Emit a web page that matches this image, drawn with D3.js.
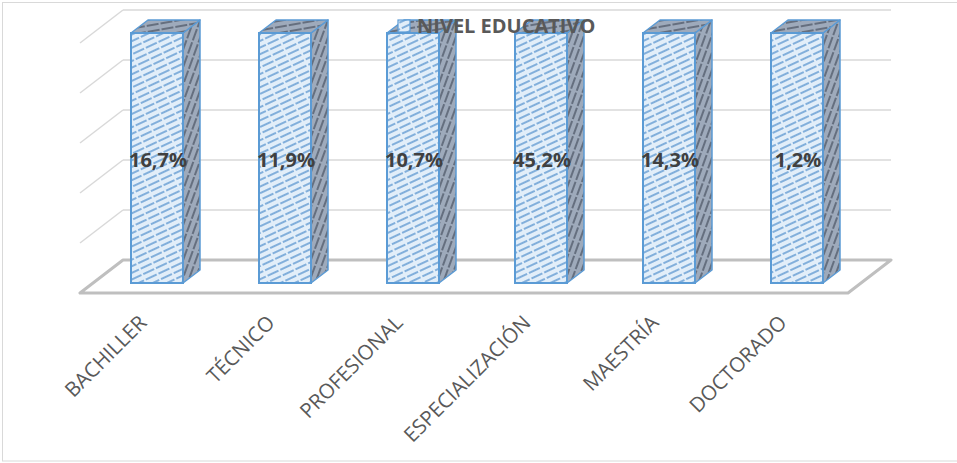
<!DOCTYPE html>
<html>
<head>
<meta charset="utf-8">
<script src="https://cdn.jsdelivr.net/npm/d3@7"></script>
<style>
  body { margin: 0; background: #fff; }
  svg { display: block; font-family: "Open Sans", sans-serif; }
</style>
</head>
<body>
<div id="chart"></div>
<script>
// Nivel educativo - 3D 100% column chart
const categories = ["BACHILLER", "TÉCNICO", "PROFESIONAL", "ESPECIALIZACIÓN", "MAESTRÍA", "DOCTORADO"];
const percents = [16.7, 11.9, 10.7, 45.2, 14.3, 1.2];
const seriesName = "NIVEL EDUCATIVO";
const gridTicks = [0, 0.2, 0.4, 0.6, 0.8, 1];

const width = 957, height = 463;
const barW = 52;
// 3d offsets
const wall = {dx: 30, dy: -23};
const front = {dx: -13, dy: 10};
const depth = {dx: 17, dy: -13};

let svg = d3.select("#chart")
    .append("svg")
    .attr("width", width)
    .attr("height", height);

let defs = svg.append("defs");

function hatch(id, bg, fg, angle, size, dash) {
    let p = defs.append("pattern")
        .attr("id", id)
        .attr("patternUnits", "userSpaceOnUse")
        .attr("width", size)
        .attr("height", 6)
        .attr("patternTransform", `rotate(${angle})`);
    p.append("rect").attr("width", size).attr("height", 6).attr("fill", bg);
    p.append("line")
        .attr("x1", 0).attr("x2", size)
        .attr("y1", 3).attr("y2", 3)
        .attr("stroke", fg)
        .attr("stroke-width", 1.6)
        .attr("stroke-dasharray", dash);
}
hatch("hatchFront", "#e2eef9", "#6a9fd4", -25, 14, "12 2");
hatch("hatchSide", "#9eaabb", "#56606f", -70, 14, "12 2");
hatch("hatchTop", "#9eaabb", "#56606f", -10, 14, "12 2");

// outer border
svg.append("rect")
    .attr("x", 2.5).attr("y", 2.5)
    .attr("width", width + 10).attr("height", 458.5)
    .attr("fill", "none")
    .attr("stroke", "#d9d9d9")
    .attr("stroke-width", 1);

let x = d3.scaleBand()
    .domain(categories)
    .range([93, 861]);

let y = d3.scaleLinear()
    .domain([0, 1])
    .range([283, 33]);

// 100% stacked, single series -> every column reaches the top
let rows = categories.map(function(c, i) { return {cat: c, share: percents[i]}; });
let stacked = d3.stack().keys(["share"]).offset(d3.stackOffsetExpand)(rows)[0];

// back wall gridlines + left wall diagonals
let x0 = x.range()[0], x1 = x.range()[1];
let grid = svg.append("g");
gridTicks.slice(1).forEach(function(t) {
    let wy = y(t) + wall.dy;
    grid.append("line")
        .attr("x1", x0 + wall.dx).attr("x2", x1 + wall.dx)
        .attr("y1", wy).attr("y2", wy)
        .attr("stroke", "#d9d9d9").attr("stroke-width", 1.5);
    grid.append("line")
        .attr("x1", x0 + wall.dx).attr("y1", wy)
        .attr("x2", x0 + front.dx).attr("y2", y(t) + front.dy)
        .attr("stroke", "#d9d9d9").attr("stroke-width", 1.5);
});

// floor
let floorPts = [
    [x0 + front.dx, y(0) + front.dy],
    [x1 + front.dx, y(0) + front.dy],
    [x1 + wall.dx, y(0) + wall.dy],
    [x0 + wall.dx, y(0) + wall.dy]
];
svg.append("polygon")
    .attr("points", floorPts.map(function(p) { return p.join(","); }).join(" "))
    .attr("fill", "none")
    .attr("stroke", "#bfbfbf")
    .attr("stroke-width", 3)
    .attr("stroke-linejoin", "round");

// bars
let bars = svg.append("g").selectAll("g").data(stacked).enter().append("g");
function bx(d) { return x(d.data.cat) + (x.bandwidth() - barW) / 2; }

bars.append("polygon")
    .attr("points", function(d) {
        let l = bx(d) + barW, t = y(d[1]), b = y(d[0]);
        return [[l, t], [l + depth.dx, t + depth.dy], [l + depth.dx, b + depth.dy], [l, b]].join(" ");
    })
    .attr("fill", "url(#hatchSide)")
    .attr("stroke", "#5b9bd5").attr("stroke-width", 1.5).attr("stroke-linejoin", "round");

bars.append("polygon")
    .attr("points", function(d) {
        let l = bx(d), t = y(d[1]);
        return [[l, t], [l + barW, t], [l + barW + depth.dx, t + depth.dy], [l + depth.dx, t + depth.dy]].join(" ");
    })
    .attr("fill", "url(#hatchTop)")
    .attr("stroke", "#5b9bd5").attr("stroke-width", 1.5).attr("stroke-linejoin", "round");

bars.append("rect")
    .attr("x", bx)
    .attr("y", function(d) { return y(d[1]); })
    .attr("width", barW)
    .attr("height", function(d) { return y(d[0]) - y(d[1]); })
    .attr("fill", "url(#hatchFront)")
    .attr("stroke", "#5b9bd5").attr("stroke-width", 2);

// data labels
bars.append("text")
    .attr("x", function(d) { return bx(d) + barW / 2 + 1; })
    .attr("y", function(d) { return y((d[0] + d[1]) / 2); })
    .attr("dy", "0.45em")
    .style("text-anchor", "middle")
    .style("font-size", "20px")
    .style("font-weight", "bold")
    .style("fill", "#404040")
    .text(function(d) { return d3.format(".1f")(d.data.share).replace(".", ",") + "%"; });

// category labels
svg.append("g").selectAll("text").data(categories).enter().append("text")
    .attr("transform", function(c) { return `translate(${x(c) + x.bandwidth() / 2 - 9}, 324) rotate(-45)`; })
    .style("text-anchor", "end")
    .style("font-size", "20.5px")
    .style("fill", "#595959")
    .text(function(c) { return c; });

// legend
let legend = svg.append("g").attr("transform", "translate(398, 20)");
legend.append("rect")
    .attr("width", 12).attr("height", 12)
    .attr("fill", "url(#hatchFront)")
    .attr("stroke", "#5b9bd5").attr("stroke-width", 1.2);
legend.append("text")
    .attr("x", 19).attr("y", 13)
    .style("font-size", "20px")
    .style("font-weight", "bold")
    .style("fill", "#595959")
    .text(seriesName);
</script>
</body>
</html>
